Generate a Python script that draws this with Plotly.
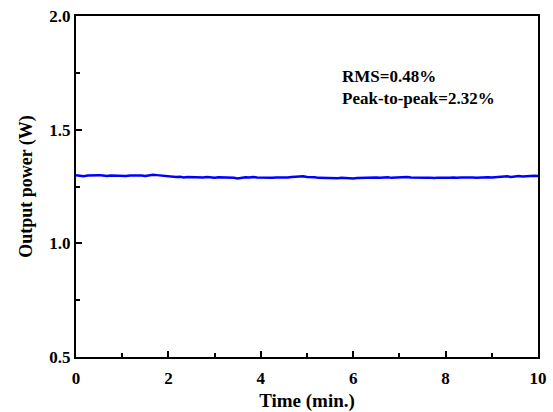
import numpy as np
import plotly.graph_objects as go

# Output power (W), sampled every 5 s over 10 minutes
power_w = [
    1.300, 1.297, 1.295, 1.298, 1.299, 1.297, 1.300, 1.298, 1.296, 1.298,
    1.297, 1.295, 1.297, 1.296, 1.298, 1.299, 1.297, 1.298, 1.296, 1.299,
    1.302, 1.300, 1.298, 1.296, 1.297, 1.294, 1.292, 1.293, 1.290, 1.292,
    1.291, 1.289, 1.291, 1.290, 1.292, 1.290, 1.289, 1.291, 1.290, 1.292,
    1.290, 1.288, 1.285, 1.289, 1.291, 1.290, 1.292, 1.290, 1.289, 1.291,
    1.290, 1.288, 1.290, 1.289, 1.291, 1.290, 1.292, 1.294, 1.293, 1.295,
    1.292, 1.293, 1.291, 1.288, 1.287, 1.288, 1.286, 1.287, 1.286, 1.288,
    1.286, 1.287, 1.285, 1.287, 1.288, 1.287, 1.289, 1.288, 1.290, 1.288,
    1.289, 1.291, 1.288, 1.289, 1.291, 1.290, 1.292, 1.290, 1.289, 1.291,
    1.290, 1.288, 1.289, 1.287, 1.289, 1.288, 1.287, 1.289, 1.290, 1.288,
    1.290, 1.291, 1.289, 1.290, 1.288, 1.290, 1.289, 1.291, 1.290, 1.292,
    1.294, 1.293, 1.295, 1.292, 1.294, 1.296, 1.294, 1.296, 1.295, 1.297,
    1.296,
]
time_min = np.linspace(0, 10, len(power_w))

x_ticks = [0, 2, 4, 6, 8, 10]
y_ticks = [0.5, 1.0, 1.5, 2.0]
y_tick_labels = ["0.5", "1.0", "1.5", "2.0"]
stats_lines = ["RMS=0.48%", "Peak-to-peak=2.32%"]

FONT = "Liberation Serif"

fig = go.Figure()
fig.add_trace(go.Scatter(
    x=time_min, y=power_w, mode="lines",
    line=dict(color="#0000FF", width=2.5),
    showlegend=False,
))

axis_common = dict(
    showline=True, linecolor="black", linewidth=2, mirror=True,
    ticks="inside", ticklen=6, tickwidth=2, tickcolor="black",
    showgrid=False, zeroline=False, automargin=False,
    tickfont=dict(family=FONT, size=17, color="black", weight="bold"),
)

fig.update_xaxes(
    range=[0, 10], tickvals=x_ticks,
    minor=dict(dtick=1, ticks="inside", ticklen=4, tickwidth=2, tickcolor="black"),
    ticklabelstandoff=5,
    title=dict(text="Time (min.)", font=dict(family=FONT, size=19, color="black", weight="bold"), standoff=8),
    **axis_common,
)
fig.update_yaxes(
    range=[0.5, 2.0], tickvals=y_ticks, ticktext=y_tick_labels,
    minor=dict(dtick=0.25, ticks="inside", ticklen=4, tickwidth=2, tickcolor="black"),
    title=dict(text="Output power (W)", font=dict(family=FONT, size=18, color="black", weight="bold"), standoff=12),
    **axis_common,
)

fig.add_annotation(
    x=5.71, y=1.736, xref="x", yref="y", xanchor="left", yanchor="middle",
    text=stats_lines[0], showarrow=False,
    font=dict(family=FONT, size=17, color="black", weight="bold"),
)
fig.add_annotation(
    x=5.71, y=1.635, xref="x", yref="y", xanchor="left", yanchor="middle",
    text=stats_lines[1], showarrow=False,
    font=dict(family=FONT, size=17, color="black", weight="bold"),
)

fig.update_layout(
    width=553, height=412,
    margin=dict(l=76, r=15, t=16, b=55),
    paper_bgcolor="white", plot_bgcolor="white",
)

fig.write_html(
    "out.html",
    config={"displayModeBar": False},
    post_script="document.body.style.margin='0';document.body.style.overflow='hidden';",
)
